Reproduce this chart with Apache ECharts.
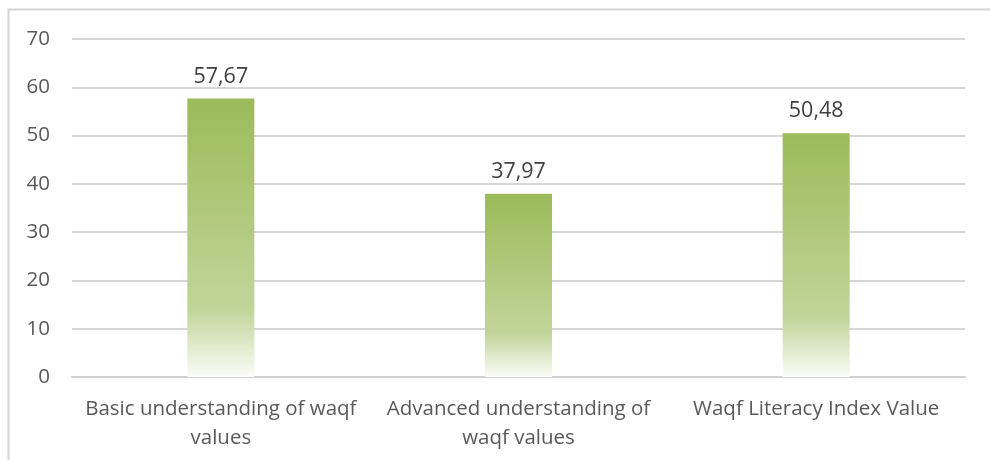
<!DOCTYPE html>
<html>
<head>
<meta charset="utf-8">
<script src="https://cdn.jsdelivr.net/npm/echarts@6/dist/echarts.min.js"></script>
<style>
  html, body { margin: 0; padding: 0; background: #fff; }
  #chart { width: 990px; height: 460px; }
</style>
</head>
<body>
<div id="chart"></div>
<script>
const categories = [
  'Basic understanding of waqf\nvalues',
  'Advanced understanding of\nwaqf values',
  'Waqf Literacy Index Value'
];
const values = [57.67, 37.97, 50.48];
const yTicks = [0, 10, 20, 30, 40, 50, 60, 70];

const chart = echarts.init(document.getElementById('chart'));

const barGradient = new echarts.graphic.LinearGradient(0, 0, 0, 1, [
  { offset: 0, color: '#9bbb59' },
  { offset: 0.76, color: '#c1d59a' },
  { offset: 1, color: '#fbfcf7' }
]);

const option = {
  backgroundColor: '#fff',
  textStyle: { fontFamily: 'Open Sans' },
  graphic: [
    {
      type: 'polyline',
      shape: { points: [[8.5, 460], [8.5, 9.5], [990, 9.5]] },
      style: { stroke: '#d4d4d4', lineWidth: 2, fill: null },
      silent: true
    }
  ],
  grid: { left: 72, right: 25, top: 39, bottom: 83 },
  xAxis: {
    type: 'category',
    data: categories,
    axisLine: { lineStyle: { color: '#d0d0d0', width: 2 } },
    axisTick: { show: false },
    axisLabel: {
      color: '#595959',
      fontSize: 20.5,
      lineHeight: 29,
      margin: 18,
      interval: 0
    }
  },
  yAxis: {
    type: 'value',
    min: yTicks[0],
    max: yTicks[yTicks.length - 1],
    interval: 10,
    axisLine: { show: false },
    axisTick: { show: false },
    axisLabel: { color: '#595959', fontSize: 20.5, margin: 22 },
    splitLine: { lineStyle: { color: '#d6d6d6', width: 2 } }
  },
  series: [
    {
      type: 'bar',
      data: values,
      barWidth: 67,
      itemStyle: { color: barGradient },
      label: {
        show: true,
        position: 'top',
        distance: 11,
        color: '#404040',
        fontSize: 21.5,
        formatter: p => p.value.toFixed(2).replace('.', ',')
      }
    }
  ]
};
chart.setOption(option);
</script>
</body>
</html>
